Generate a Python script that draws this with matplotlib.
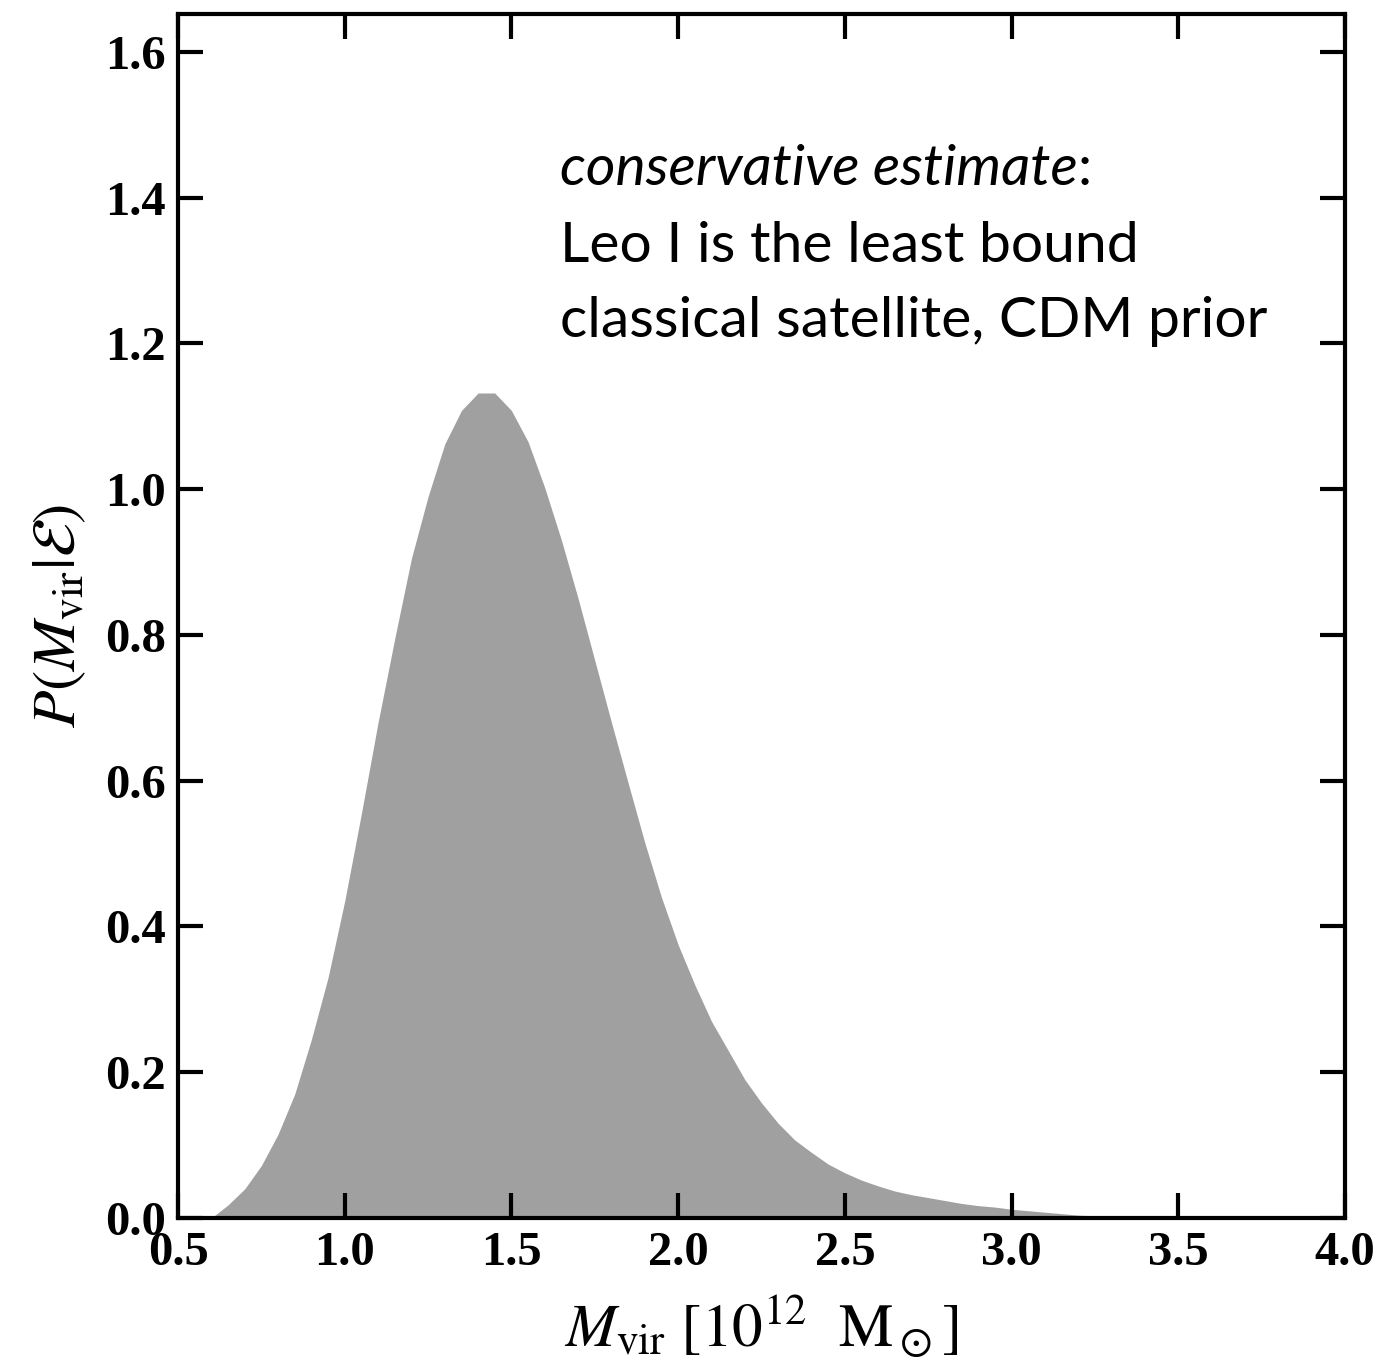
import numpy as np
import matplotlib
matplotlib.use("Agg")
import matplotlib.pyplot as plt

# posterior of the virial mass
m_vir = [0.60, 0.65, 0.70, 0.75, 0.80, 0.85, 0.90, 0.95, 1.00, 1.05,
         1.10, 1.15, 1.20, 1.25, 1.30, 1.35, 1.40, 1.45, 1.50, 1.55,
         1.60, 1.65, 1.70, 1.75, 1.80, 1.85, 1.90, 1.95, 2.00, 2.05,
         2.10, 2.15, 2.20, 2.25, 2.30, 2.35, 2.40, 2.45, 2.50, 2.55,
         2.60, 2.65, 2.70, 2.75, 2.80, 2.85, 2.90, 2.95, 3.00, 3.05,
         3.10, 3.15, 3.20, 3.25, 3.30, 3.35, 3.40]
prob = [0.000, 0.018, 0.040, 0.072, 0.115, 0.170, 0.245, 0.330, 0.435, 0.555,
        0.680, 0.795, 0.905, 0.990, 1.062, 1.108, 1.132, 1.132, 1.108, 1.065,
        1.002, 0.930, 0.850, 0.765, 0.680, 0.597, 0.515, 0.440, 0.375, 0.320,
        0.270, 0.230, 0.190, 0.158, 0.130, 0.107, 0.090, 0.074, 0.062, 0.052,
        0.044, 0.037, 0.032, 0.028, 0.024, 0.020, 0.017, 0.015, 0.012, 0.010,
        0.008, 0.006, 0.004, 0.003, 0.002, 0.001, 0.000]

xticks = [0.5, 1.0, 1.5, 2.0, 2.5, 3.0, 3.5, 4.0]
yticks = [0.0, 0.2, 0.4, 0.6, 0.8, 1.0, 1.2, 1.4, 1.6]

plt.rcParams['mathtext.fontset'] = 'stix'

fig = plt.figure(figsize=(13.8, 13.6), dpi=100)
ax = fig.add_axes([0.129, 0.1044, 0.8456, 0.8853])

ax.fill_between(m_vir, 0, prob, color='#a0a0a0', linewidth=0)

ax.set_xlim(0.5, 4.0)
ax.set_ylim(0.0, 1.652)
ax.set_xticks(xticks)
ax.set_yticks(yticks)
ax.set_xticklabels([f"{t:.1f}" for t in xticks], family='Liberation Serif',
                   weight='bold', fontsize=35)
ax.set_yticklabels([f"{t:.1f}" for t in yticks], family='Liberation Serif',
                   weight='bold', fontsize=35)
ax.tick_params(direction='in', length=18, width=3, top=True, right=True, pad=9)
for s in ax.spines.values():
    s.set_linewidth(3)

ax.set_xlabel(r'$M_{\rm vir}\ [10^{12}\ \ {\rm M}_\odot]$', fontsize=44, labelpad=14)
ax.set_ylabel(r'$P(M_{\rm vir}|\mathcal{E})$', fontsize=44, labelpad=12)

# annotation block
tfont = dict(family='Lato', fontsize=41, color='black')
t1 = ax.text(0.327, 0.858, 'conservative estimate', transform=ax.transAxes,
             style='italic', **tfont)
ax.annotate(':', xy=(1, 0), xycoords=t1, va='bottom', ha='left', **tfont)
ax.text(0.327, 0.794, 'Leo I is the least bound', transform=ax.transAxes, **tfont)
ax.text(0.327, 0.732, 'classical satellite, CDM prior', transform=ax.transAxes, **tfont)

fig.savefig('out.png', dpi=100)
